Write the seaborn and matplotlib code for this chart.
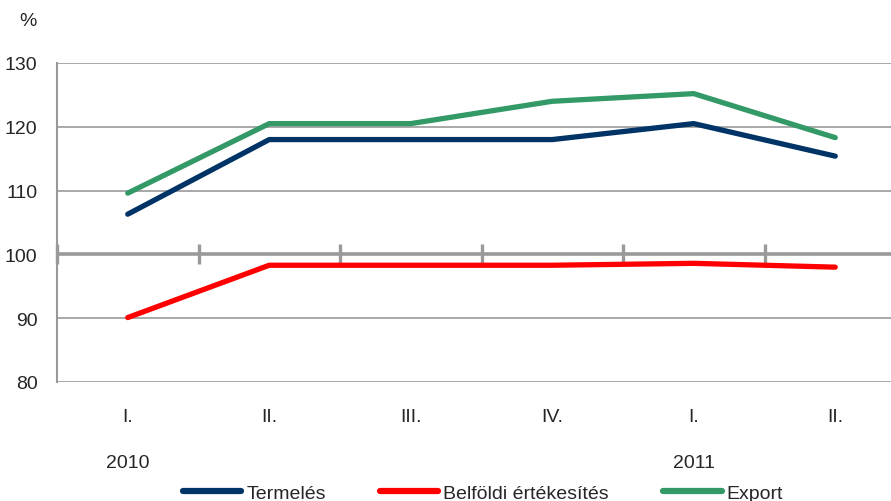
import pandas as pd
import numpy as np
import matplotlib
matplotlib.use("Agg")
import matplotlib.pyplot as plt
import seaborn as sns

# chart data
quarters = ["I.", "II.", "III.", "IV.", "I.", "II."]
years = ["2010", "", "", "", "2011", ""]
termeles = [106.3, 118.0, 118.0, 118.0, 120.5, 115.4]
belfoldi = [90.1, 98.3, 98.3, 98.3, 98.6, 98.0]
export = [109.6, 120.5, 120.5, 124.0, 125.2, 118.3]
series_names = ["Termelés", "Belföldi értékesítés", "Export"]
colors = ["#003366", "#FF0000", "#339966"]

sns.set_style("white")
plt.rcParams['font.family'] = ['Liberation Sans', 'DejaVu Sans']

# long form table for seaborn
rows = []
for name, vals in zip(series_names, [termeles, belfoldi, export]):
    for i, v in enumerate(vals):
        rows.append({"idx": i, "value": v, "series": name})
df = pd.DataFrame(rows)

fig = plt.figure(figsize=(8.91, 5.02), dpi=100)
ax = fig.add_axes([57 / 891, 1 - 383 / 502, (906 - 57) / 891, (383 - 64) / 502])

sns.lineplot(data=df, x="idx", y="value", hue="series", hue_order=series_names,
             palette=colors, linewidth=3.8, ax=ax, legend=False,
             solid_capstyle="round")

ax.set_xlim(-0.5, len(quarters) - 0.5)
ax.set_ylim(80, 130)
ax.set_yticks(np.arange(80, 131, 10))
ax.yaxis.grid(True, color="#999999", linewidth=1.2)
ax.set_axisbelow(True)

# thick 100 axis line with category separators
ax.axhline(100, color="#999999", linewidth=2.6, zorder=1)
seps = np.arange(-0.5, len(quarters) - 0.5, 1.0)
ax.plot(seps, np.full(len(seps), 100), linestyle="none", marker="|",
        markersize=14, markeredgewidth=2.4, color="#999999", zorder=1, clip_on=False)

for s in ["top", "right", "bottom"]:
    ax.spines[s].set_visible(False)
ax.spines["left"].set_color("#999999")
ax.spines["left"].set_linewidth(1.5)

ax.set_xticks(range(len(quarters)))
ax.set_xticklabels([q + "\n\n" + (y if y else " ") for q, y in zip(quarters, years)],
                   fontsize=14, linespacing=1.45)
ax.tick_params(axis="x", length=0, pad=19)
ax.tick_params(axis="y", length=0, labelsize=14, pad=14)
ax.set_xlabel("")
ax.set_ylabel("")

fig.text(28 / 891, 1 - 22 / 502, "%", fontsize=14, ha="center", va="center")

handles = [plt.Line2D([0], [0], color=c, linewidth=4.5, solid_capstyle="round") for c in colors]
fig.legend(handles, series_names, loc="center", bbox_to_anchor=(483 / 891, 1 - 494 / 502),
           ncol=3, frameon=False, fontsize=14, handlelength=3.0, handletextpad=0.25,
           columnspacing=2.8, borderaxespad=0)

fig.savefig("out.png", dpi=100)
